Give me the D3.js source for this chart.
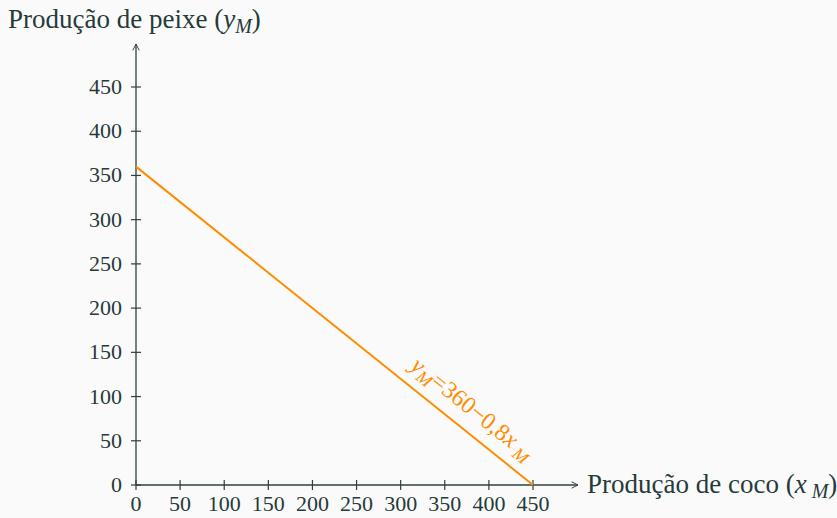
<!DOCTYPE html>
<html>
<head>
<meta charset="utf-8">
<script src="https://cdn.jsdelivr.net/npm/d3@7"></script>
<style>
  html, body { margin: 0; padding: 0; background: #fafafa; }
  svg { display: block; }
  text { font-family: "Liberation Serif", "DejaVu Serif", serif; fill: #263a3a; }
</style>
</head>
<body>
<div id="chart"></div>
<script>
// data
const xTicks = [0, 50, 100, 150, 200, 250, 300, 350, 400, 450];
const yTicks = [0, 50, 100, 150, 200, 250, 300, 350, 400, 450];
const lineX = [0, 450];
const lineY = [360, 0];
const xTitle = "Produção de coco";
const yTitle = "Produção de peixe";

const width = 837, height = 518;
const axisColor = "#2f4040";
const orange = "#ff8c00";

const svg = d3.select("#chart").append("svg")
    .attr("width", width)
    .attr("height", height);

const x = d3.scaleLinear().domain([0, 450]).range([136, 533]);
const y = d3.scaleLinear().domain([0, 450]).range([485, 87]);

// axes lines with arrows
svg.append("defs").append("marker")
    .attr("id", "arr")
    .attr("viewBox", "0 0 10 10")
    .attr("refX", 9).attr("refY", 5)
    .attr("markerWidth", 8).attr("markerHeight", 8)
    .attr("markerUnits", "userSpaceOnUse")
    .attr("orient", "auto")
    .append("path")
    .attr("d", "M1,1 L9,5 L1,9")
    .attr("fill", "none")
    .attr("stroke", axisColor)
    .attr("stroke-width", 1.2);

svg.append("line")
    .attr("x1", x(0)).attr("y1", y(0))
    .attr("x2", 578).attr("y2", y(0))
    .attr("stroke", axisColor).attr("stroke-width", 1.3)
    .attr("marker-end", "url(#arr)");

svg.append("line")
    .attr("x1", x(0)).attr("y1", y(0))
    .attr("x2", x(0)).attr("y2", 44)
    .attr("stroke", axisColor).attr("stroke-width", 1.3)
    .attr("marker-end", "url(#arr)");

// ticks
svg.selectAll(".xt").data(xTicks).enter().append("line")
    .attr("x1", d => x(d)).attr("x2", d => x(d))
    .attr("y1", y(0) - 5).attr("y2", y(0) + 5)
    .attr("stroke", axisColor).attr("stroke-width", 1.2);

svg.selectAll(".yt").data(yTicks).enter().append("line")
    .attr("y1", d => y(d)).attr("y2", d => y(d))
    .attr("x1", x(0) - 5).attr("x2", x(0) + 5)
    .attr("stroke", axisColor).attr("stroke-width", 1.2);

svg.selectAll(".xl").data(xTicks).enter().append("text")
    .attr("x", d => x(d)).attr("y", 511)
    .attr("text-anchor", "middle")
    .attr("font-size", 22)
    .text(d => d);

svg.selectAll(".yl").data(yTicks).enter().append("text")
    .attr("x", 122).attr("y", d => y(d) + 7)
    .attr("text-anchor", "end")
    .attr("font-size", 22)
    .text(d => d);

// line
svg.append("line")
    .attr("x1", x(lineX[0])).attr("y1", y(lineY[0]))
    .attr("x2", x(lineX[1])).attr("y2", y(lineY[1]))
    .attr("stroke", orange).attr("stroke-width", 2);

// line label
const ang = Math.atan2(y(lineY[1]) - y(lineY[0]), x(lineX[1]) - x(lineX[0])) * 180 / Math.PI;
const lx = x(366), ly = y(360 - 0.8 * 366);
const lbl = svg.append("text")
    .attr("transform", `translate(${lx},${ly}) rotate(${ang}) translate(0,-14)`)
    .attr("text-anchor", "middle")
    .attr("font-size", 24)
    .style("fill", orange);
lbl.append("tspan").attr("font-style", "italic").text("y");
lbl.append("tspan").attr("font-style", "italic").attr("font-size", 18).attr("dy", 5).text("M");
lbl.append("tspan").attr("dy", -5).text("=360−0,8");
lbl.append("tspan").attr("font-style", "italic").text("x");
lbl.append("tspan").attr("font-style", "italic").attr("font-size", 18).attr("dy", 5).text(" M");

// titles
const yt = svg.append("text").attr("x", 8).attr("y", 28).attr("font-size", 27);
yt.append("tspan").text(yTitle + " (");
yt.append("tspan").attr("font-style", "italic").text("y");
yt.append("tspan").attr("font-style", "italic").attr("font-size", 20).attr("dy", 5).text("M");
yt.append("tspan").attr("dy", -5).text(")");

const xt = svg.append("text").attr("x", 587).attr("y", 493).attr("font-size", 27);
xt.append("tspan").text(xTitle + " (");
xt.append("tspan").attr("font-style", "italic").text("x");
xt.append("tspan").attr("font-style", "italic").attr("font-size", 20).attr("dy", 5).text(" M");
xt.append("tspan").attr("dy", -5).text(")");
</script>
</body>
</html>
